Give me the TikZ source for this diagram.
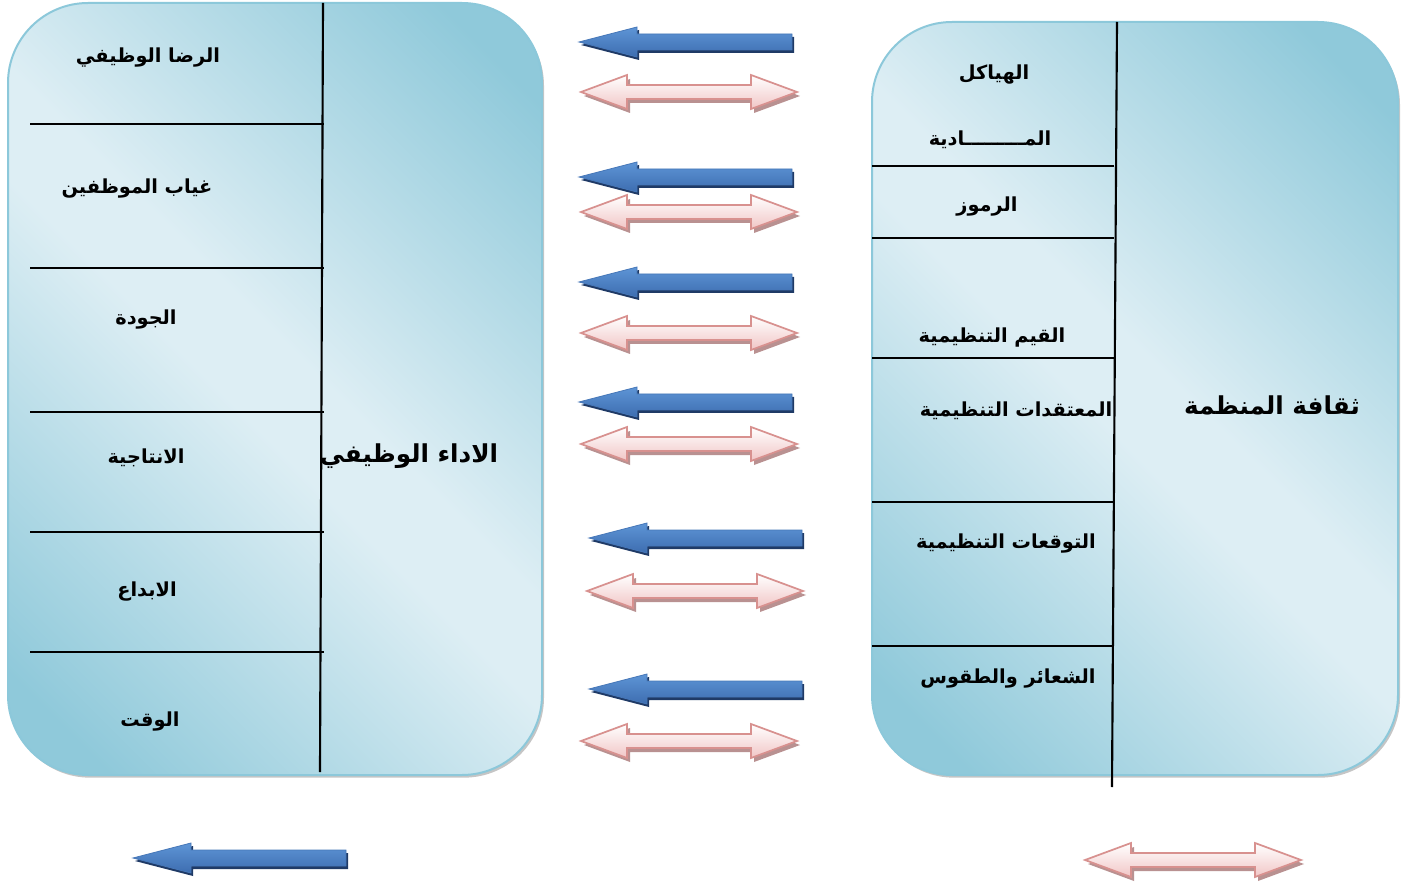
\documentclass[tikz,border=0pt]{standalone}
\usepackage{fontspec}
\usetikzlibrary{shadows,fit}
\newfontfamily\arabicfont[Script=Arabic]{DejaVu Sans}
\TeXXeTstate=1
\definecolor{bdark}{HTML}{8FC9DA}
\definecolor{blight}{HTML}{DDEEF4}
\definecolor{bborder}{HTML}{8CC8DA}
\definecolor{blueA}{HTML}{5E95D6}
\definecolor{blueB}{HTML}{3D6DB0}
\definecolor{blueedge}{HTML}{4677B8}
\definecolor{blueshadow}{HTML}{1F3A66}
\definecolor{pinkB}{HTML}{F1C6C6}
\definecolor{pinkedge}{HTML}{D8918F}
\definecolor{pinkshadow}{HTML}{B99191}
\pgfdeclareverticalshading{boxsh}{100bp}{color(0bp)=(bdark); color(20bp)=(bdark); color(47bp)=(blight); color(53bp)=(blight); color(80bp)=(bdark); color(100bp)=(bdark)}
\tikzset{
  box/.style={draw=bborder, line width=1.5pt, rounded corners=60pt, shading=boxsh, shading angle=-45,
     inner sep=0pt, drop shadow={shadow xshift=1.5pt, shadow yshift=-2pt, fill=black!50, opacity=0.45}},
  divline/.style={black, line width=1.6pt},
  lbl/.style={font=\arabicfont\bfseries\fontsize{14.5}{17}\selectfont, inner sep=0pt, yshift=-2pt},
  biglbl/.style={font=\arabicfont\bfseries\fontsize{18.5}{22}\selectfont, inner sep=0pt, yshift=-2pt},
  bluearrow/.pic={
    \fill[blueshadow, shift={(2,3)}] (0,0) -- (58,-15) -- (58,-8) -- (213,-8) -- (213,8) -- (58,8) -- (58,15) -- cycle;
    \path[draw=blueedge, line width=0.6pt, top color=blueA, bottom color=blueB]
      (0,0) -- (58,-15) -- (58,-8) -- (213,-8) -- (213,8) -- (58,8) -- (58,15) -- cycle;
  },
  pinkarrow/.pic={
    \fill[pinkshadow, shift={(3,4)}] (0,0) -- (46,-17) -- (46,-7) -- (170,-7) -- (170,-17) -- (216,0) -- (170,17) -- (170,7) -- (46,7) -- (46,17) -- cycle;
    \path[draw=pinkedge, line width=1.3pt, top color=white, bottom color=pinkB]
      (0,0) -- (46,-17) -- (46,-7) -- (170,-7) -- (170,-17) -- (216,0) -- (170,17) -- (170,7) -- (46,7) -- (46,17) -- cycle;
  }
}
\begin{document}
\begin{tikzpicture}[x=0.75pt,y=-0.75pt]
\useasboundingbox (0,0) rectangle (1411,884);
\fill[white] (0,0) rectangle (1411,884);

% boxes
\node[box, fit={(8,3) (542,775)}] (L) {};
\node[box, fit={(872,22) (1398,775)}] (R) {};

% left box lines
\draw[divline] (323,3) -- (320,772);
\foreach \y in {124,268,412,532,652} \draw[divline] (30,\y) -- (324,\y);

% right box lines
\draw[divline] (1117,22) -- (1112,787);
\foreach \y in {166,238,358,502,646} \draw[divline] (872,\y) -- (1114,\y);

% left labels
\node[lbl] (l1) at (148,55) {\beginR الرضا الوظيفي\endR};
\node[lbl] (l2) at (137,186) {\beginR غياب الموظفين\endR};
\node[lbl] (l3) at (146,317) {\beginR الجودة\endR};
\node[lbl] (l4) at (146,455) {\beginR الانتاجية\endR};
\node[lbl] (l5) at (147,589) {\beginR الابداع\endR};
\node[lbl] (l6) at (150,719) {\beginR الوقت\endR};
\node[biglbl] (lm) at (409,453) {\beginR الاداء الوظيفي\endR};

% right labels
\node[lbl] (r1) at (994,72) {\beginR الهياكل\endR};
\node[lbl] (r2) at (990,137) {\beginR المـــــــــادية\endR};
\node[lbl] (r3) at (987,204) {\beginR الرموز\endR};
\node[lbl] (r4) at (992,335) {\beginR القيم التنظيمية\endR};
\node[lbl] (r5) at (1016,408) {\beginR المعتقدات التنظيمية\endR};
\node[lbl] (r6) at (1006,541) {\beginR التوقعات التنظيمية\endR};
\node[lbl] (r7) at (1008,676) {\beginR الشعائر والطقوس\endR};
\node[biglbl] (rm) at (1272,403) {\beginR ثقافة المنظمة\endR};

% arrows
\pic at (579,42) {bluearrow};
\pic at (579,177) {bluearrow};
\pic at (579,282) {bluearrow};
\pic at (579,402) {bluearrow};
\pic at (589,538) {bluearrow};
\pic at (589,689) {bluearrow};
\pic at (133,858) {bluearrow};

\pic at (581,92) {pinkarrow};
\pic at (581,212) {pinkarrow};
\pic at (581,333) {pinkarrow};
\pic at (581,444) {pinkarrow};
\pic at (587,591) {pinkarrow};
\pic at (581,741) {pinkarrow};
\pic at (1085,860) {pinkarrow};
\end{tikzpicture}
\end{document}
